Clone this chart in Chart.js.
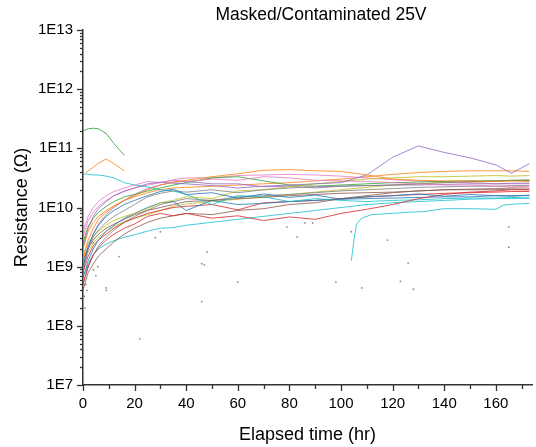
<!DOCTYPE html>
<html>
<head>
<meta charset="utf-8">
<script src="https://cdn.jsdelivr.net/npm/chart.js@4/dist/chart.umd.min.js"></script>
<style>
  html, body { margin: 0; padding: 0; background: #fff; }
</style>
</head>
<body>
<canvas id="myChart" width="536" height="447"></canvas>
<script>
// elapsed time (hr) shared by most traces
var hours = [0, 1, 2, 4, 6, 9, 12, 16, 20, 25, 30, 35, 40, 50, 60, 70, 80, 90, 100, 110, 120, 130, 140, 150, 160, 166, 173];

// log10(resistance), one array per trace
var blue1   = [9.0, 9.2, 9.35, 9.55, 9.7, 9.85, 9.95, 10.05, 10.12, 10.2, 10.27, 10.31, 10.22, 10.25, 10.16, 10.23, 10.17, 10.21, 10.14, 10.18, 10.2, 10.23, 10.19, 10.22, 10.2, 10.19, 10.21];
var orange1 = [9.1, 9.3, 9.45, 9.65, 9.8, 9.92, 10.02, 10.12, 10.2, 10.3, 10.38, 10.43, 10.46, 10.52, 10.57, 10.63, 10.64, 10.62, 10.61, 10.55, 10.48, 10.46, 10.45, 10.45, 10.44, 10.45, 10.44];
var green1  = [11.3, 11.31, 11.33, 11.34, 11.33, 11.25, 11.08, 10.88, null, null, null, null, null, null, null, null, null, null, null, null, null, null, null, null, null, null, null];
var red1    = [8.7, 8.85, 9.0, 9.2, 9.32, 9.45, 9.55, 9.65, 9.72, 9.85, 9.9, 9.86, 9.9, 9.82, 9.86, 9.78, 9.84, 9.8, 9.9, 9.97, 10.05, 10.15, 10.22, 10.26, 10.28, 10.3, 10.3];
var purple1 = [9.3, 9.5, 9.65, 9.85, 9.98, 10.1, 10.2, 10.28, 10.33, 10.4, 10.43, 10.41, 10.4, 10.37, 10.33, 10.36, 10.38, 10.4, 10.42, 10.55, 10.85, 11.04, 10.93, 10.84, 10.72, 10.58, 10.74];
var brown1  = [8.6, 8.75, 8.9, 9.05, 9.18, 9.3, 9.42, 9.55, 9.65, 9.75, 9.82, 9.86, 9.9, 9.88, 9.95, 9.98, 10.05, 10.08, 10.15, 10.2, 10.25, 10.28, 10.3, 10.31, 10.32, 10.33, 10.33];
var pink1   = [9.6, 9.72, 9.85, 10.0, 10.1, 10.2, 10.27, 10.33, 10.38, 10.44, 10.42, 10.46, 10.44, 10.48, 10.46, 10.52, 10.5, 10.46, 10.45, 10.44, 10.42, 10.4, 10.38, 10.38, 10.36, 10.35, 10.36];
var gray1   = [9.0, 9.15, 9.3, 9.5, 9.62, 9.75, 9.85, 9.95, 10.05, 10.18, 10.24, 10.28, 10.26, 10.3, 10.25, 10.3, 10.33, 10.35, 10.36, 10.37, 10.38, 10.4, 10.42, 10.44, 10.45, 10.46, 10.47];
var olive1  = [9.2, 9.3, 9.4, 9.52, 9.6, 9.7, 9.78, 9.85, 9.9, 9.98, 10.08, 10.12, 10.18, 10.15, 10.28, 10.3, 10.35, 10.4, 10.44, 10.48, 10.5, 10.52, 10.52, 10.53, 10.54, 10.53, 10.54];
var cyan1   = [10.55, 10.57, 10.56, 10.55, 10.55, 10.53, 10.5, 10.42, 10.38, 10.35, 10.3, 10.28, 10.22, 10.05, 10.2, 10.18, 10.1, 10.15, 10.12, 10.1, 10.12, 10.13, 10.15, 10.16, 10.16, 10.17, 10.16];
var blue2   = [8.8, 8.95, 9.1, 9.3, 9.45, 9.6, 9.7, 9.82, 9.9, 10.0, 10.08, 10.1, 9.95, 10.12, 10.05, 10.07, 10.1, 10.12, 10.14, 10.15, 10.16, 10.17, 10.18, 10.18, 10.2, 10.2, 10.2];
var orange2 = [null, 10.58, 10.62, 10.68, 10.75, 10.82, 10.74, 10.62, null, null, null, null, null, null, null, null, null, null, null, null, null, null, null, null, null, null, null];
var green2  = [9.4, 9.55, 9.68, 9.82, 9.92, 10.02, 10.1, 10.18, 10.22, 10.28, 10.33, 10.38, 10.42, 10.5, 10.52, 10.45, 10.38, 10.36, 10.38, 10.4, 10.42, 10.43, 10.44, 10.45, 10.45, 10.46, 10.45];
var red2    = [8.9, 9.05, 9.18, 9.35, 9.45, 9.55, 9.65, 9.75, 9.82, 9.9, 9.95, 10.0, 10.02, 10.05, 9.96, 10.08, 10.1, 10.12, 10.15, 10.18, 10.2, 10.22, 10.24, 10.25, 10.26, 10.27, 10.27];
var purple2 = [8.9, 9.1, 9.3, 9.55, 9.72, 9.88, 10.0, 10.12, 10.22, 10.32, 10.38, 10.43, 10.44, 10.4, 10.4, 10.35, 10.36, 10.33, 10.36, 10.37, 10.38, 10.38, 10.39, 10.4, 10.4, 10.41, 10.41];
var brown2  = [9.1, 9.22, 9.32, 9.45, 9.55, 9.65, 9.72, 9.8, 9.88, 9.95, 10.0, 10.05, 10.1, 10.12, 10.15, 10.17, 10.2, 10.22, 10.24, 10.25, 10.26, 10.28, 10.3, 10.3, 10.3, 10.31, 10.3];
var pink2   = [9.5, 9.65, 9.78, 9.92, 10.02, 10.12, 10.2, 10.27, 10.33, 10.38, 10.42, 10.47, 10.5, 10.5, 10.54, 10.55, 10.56, 10.55, 10.53, 10.5, 10.47, 10.45, 10.43, 10.42, 10.4, 10.4, 10.4];
var gray2   = [8.7, 8.85, 9.0, 9.2, 9.35, 9.5, 9.62, 9.75, 9.85, 9.95, 10.05, 10.1, 10.15, 10.12, 10.18, 10.2, 10.22, 10.25, 10.28, 10.3, 10.32, 10.34, 10.35, 10.36, 10.36, 10.37, 10.37];
var olive2  = [9.0, 9.12, 9.25, 9.4, 9.5, 9.6, 9.68, 9.76, 9.82, 9.88, 9.95, 10.02, 10.06, 10.1, 10.14, 10.18, 10.22, 10.26, 10.3, 10.34, 10.38, 10.4, 10.42, 10.43, 10.44, 10.45, 10.46];
var cyan2   = [null, 8.9, 9.05, 9.2, 9.3, 9.38, 9.44, 9.5, 9.54, 9.6, 9.65, 9.66, 9.7, 9.75, 9.8, 9.85, 9.9, 9.95, 10.0, 10.05, 10.08, 10.1, 10.12, 10.14, 10.15, 10.15, 10.16];
var orange3 = [9.3, 9.45, 9.6, 9.75, 9.85, 9.95, 10.03, 10.12, 10.18, 10.25, 10.3, 10.33, 10.34, 10.36, 10.38, 10.4, 10.42, 10.45, 10.48, 10.52, 10.56, 10.59, 10.61, 10.62, 10.62, 10.62, 10.61];

// the late low teal trace has its own time stamps
var hoursLate = [104, 105, 106, 108, 112, 120, 126, 132, 140, 150, 160, 163, 168, 173];
var cyanLate  = [9.1, 9.45, 9.72, 9.82, 9.88, 9.9, 9.92, 9.93, 9.98, 9.98, 9.97, 10.04, 10.06, 10.07];

// stray readings [hr, log10 R]
var strayHours = [0.3, 0.5, 0.8, 1, 1.5, 2, 4, 4, 5, 5.7, 9, 9, 14, 22, 28, 30, 46, 46, 47, 48, 60, 79, 83, 86, 89, 98, 104, 108, 118, 123, 126, 128, 165, 165];
var strayLogR  = [8.9, 8.5, 8.3, 8.7, 8.6, 9.0, 8.95, 9.4, 8.85, 9.0, 8.6, 8.64, 9.17, 7.78, 9.49, 9.59, 9.05, 8.41, 9.03, 9.25, 8.74, 9.67, 9.5, 9.74, 9.74, 8.74, 9.59, 8.64, 9.45, 8.75, 9.06, 8.62, 9.67, 9.33];

var yTickExp = [7, 8, 9, 10, 11, 12, 13];
var xTickHours = [0, 20, 40, 60, 80, 100, 120, 140, 160];

var traces = [
  ['31,119,180', blue1], ['255,127,14', orange1], ['44,160,44', green1], ['214,39,40', red1],
  ['148,103,189', purple1], ['140,86,75', brown1], ['227,119,194', pink1], ['127,127,127', gray1],
  ['188,189,34', olive1], ['23,190,207', cyan1], ['31,119,180', blue2], ['255,127,14', orange2],
  ['44,160,44', green2], ['214,39,40', red2], ['148,103,189', purple2], ['140,86,75', brown2],
  ['227,119,194', pink2], ['127,127,127', gray2], ['188,189,34', olive2], ['23,190,207', cyan2],
  ['255,127,14', orange3], ['23,190,207', null]
];

function toPoints(xs, ys) {
  return xs.map(function (x, i) {
    return {x: x, y: ys[i] == null ? null : Math.pow(10, ys[i])};
  });
}

var datasets = traces.map(function (t) {
  var pts = t[1] ? toPoints(hours, t[1]) : toPoints(hoursLate, cyanLate);
  return {
    type: 'line',
    data: pts,
    borderColor: 'rgba(' + t[0] + ',0.8)',
    borderWidth: 1,
    pointRadius: 0,
    spanGaps: false
  };
});
datasets.push({
  type: 'scatter',
  data: toPoints(strayHours, strayLogR),
  backgroundColor: 'rgba(110,110,110,0.8)',
  borderWidth: 0,
  pointRadius: 0.9
});

var FONT = 'Liberation Sans, Arial, sans-serif';

// Origin style tick marks: long at labelled values, short in between
var tickMarks = {
  id: 'tickMarks',
  afterDraw: function (chart) {
    var c = chart.ctx, x = chart.scales.x, y = chart.scales.y;
    c.save();
    c.strokeStyle = '#333';
    c.lineWidth = 1.3;
    y.ticks.forEach(function (t) {
      var major = Math.abs(Math.log10(t.value) - Math.round(Math.log10(t.value))) < 1e-9;
      var py = Math.round(y.getPixelForValue(t.value)) + 0.5;
      c.beginPath();
      c.moveTo(x.left, py);
      c.lineTo(x.left - (major ? 6 : 3), py);
      c.stroke();
    });
    x.ticks.forEach(function (t) {
      var major = t.value % 20 === 0;
      var px = Math.round(x.getPixelForValue(t.value)) + 0.5;
      c.beginPath();
      c.moveTo(px, y.bottom);
      c.lineTo(px, y.bottom + (major ? 6 : 4));
      c.stroke();
    });
    c.fillStyle = '#000';
    c.font = '17.5px ' + FONT;
    c.textAlign = 'center';
    c.textBaseline = 'middle';
    c.fillText('Masked/Contaminated 25V', 321, 15);
    c.restore();
  }
};

var ctx = document.getElementById('myChart');
var myChart = new Chart(ctx, {
  type: 'line',
  data: {datasets: datasets},
  options: {
    responsive: false,
    devicePixelRatio: 1,
    animation: false,
    layout: {padding: {top: 30, right: 0, left: 0, bottom: 0}},
    plugins: {
      legend: {display: false},
      title: {display: false},
      tooltip: {enabled: false}
    },
    scales: {
      x: {
        type: 'linear',
        min: 0,
        max: 174,
        afterFit: function (s) { s.height = 62; },
        afterBuildTicks: function (s) {
          var list = [];
          for (var h = 0; h <= 170; h += 10) list.push({value: h});
          s.ticks = list;
        },
        border: {color: '#333', width: 1.5},
        grid: {display: true, drawOnChartArea: false, drawTicks: true, tickLength: 6, color: 'rgba(0,0,0,0)'},
        ticks: {
          autoSkip: false,
          maxRotation: 0,
          padding: 4,
          color: '#000',
          font: {family: FONT, size: 15},
          callback: function (v) { return xTickHours.indexOf(v) >= 0 ? String(v) : ''; }
        },
        title: {
          display: true,
          text: 'Elapsed time (hr)',
          color: '#000',
          font: {family: FONT, size: 18},
          padding: {top: 0, bottom: 1}
        }
      },
      y: {
        type: 'logarithmic',
        min: 1e7,
        max: 1e13,
        afterFit: function (s) { s.width = 83; },
        afterBuildTicks: function (s) {
          var list = [];
          for (var i = 0; i < yTickExp.length; i++) {
            var e = yTickExp[i];
            if (i === yTickExp.length - 1) { list.push({value: Math.pow(10, e)}); break; }
            for (var m = 1; m <= 9; m++) list.push({value: m * Math.pow(10, e)});
          }
          s.ticks = list;
        },
        border: {color: '#333', width: 1.5},
        grid: {display: true, drawOnChartArea: false, drawTicks: true, tickLength: 6, color: 'rgba(0,0,0,0)'},
        ticks: {
          autoSkip: false,
          padding: 4,
          color: '#000',
          font: {family: FONT, size: 15},
          callback: function (v) {
            var e = Math.log10(v);
            return Math.abs(e - Math.round(e)) < 1e-9 ? '1E' + Math.round(e) : '';
          }
        },
        title: {
          display: true,
          text: 'Resistance (Ω)',
          color: '#000',
          font: {family: FONT, size: 18},
          padding: {top: 11, bottom: 0}
        }
      }
    }
  },
  plugins: [tickMarks]
});
</script>
</body>
</html>
